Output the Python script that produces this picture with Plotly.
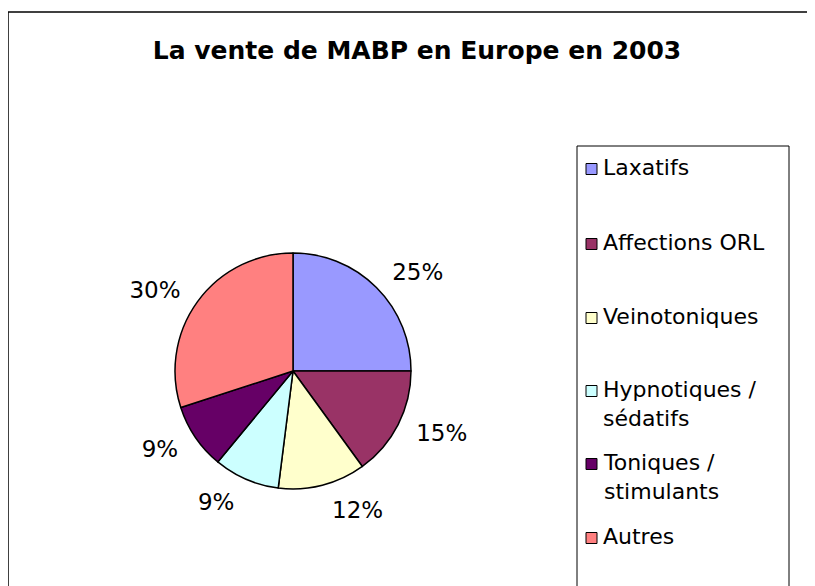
import plotly.graph_objects as go

categories = ["Laxatifs", "Affections ORL", "Veinotoniques", "Hypnotiques / sédatifs",
              "Toniques / stimulants", "Autres"]
legend_labels = ["Laxatifs", "Affections ORL", "Veinotoniques", "Hypnotiques /<br>sédatifs",
                 "Toniques /<br>stimulants", "Autres"]
values = [25, 15, 12, 9, 9, 30]
colors = ["#9999FF", "#993366", "#FFFFCC", "#CCFFFF", "#660066", "#FF8080"]
title_text = "La vente de MABP en Europe en 2003"

W, H = 815, 586
OFF = 8  # page body margin


def px(x):
    return (x - OFF) / W


def py(y):
    return 1 - (y - OFF) / H


cx, cy, r = 293, 371, 118
r_text = 131

fig = go.Figure()
# label carrier (transparent, slightly larger) so that labels sit further out
fig.add_trace(go.Pie(
    labels=categories, values=values, sort=False, direction="clockwise", rotation=0,
    marker=dict(colors=["rgba(0,0,0,0)"] * len(values), line=dict(width=0)),
    texttemplate="%{percent:.0%}", textposition="outside",
    textfont=dict(family="DejaVu Sans", size=23, color="black"),
    domain=dict(x=[px(cx - r_text), px(cx + r_text)], y=[py(cy + r_text), py(cy - r_text)]),
    showlegend=False, hoverinfo="skip",
))
fig.add_trace(go.Pie(
    labels=categories, values=values, sort=False, direction="clockwise", rotation=0,
    marker=dict(colors=colors, line=dict(color="black", width=1.5)),
    textinfo="none",
    domain=dict(x=[px(cx - r), px(cx + r)], y=[py(cy + r), py(cy - r)]),
    showlegend=False, hoverinfo="label+percent",
))

shapes = [
    dict(type="line", xref="paper", yref="paper", x0=px(8), x1=1.2, y0=py(12), y1=py(12),
         line=dict(color="black", width=1.5)),
    dict(type="line", xref="paper", yref="paper", x0=px(8), x1=px(8), y0=py(12), y1=-0.1,
         line=dict(color="black", width=1.5)),
    dict(type="rect", xref="paper", yref="paper", x0=px(577), x1=px(789), y0=py(146), y1=-0.1,
         line=dict(color="black", width=1), fillcolor="rgba(0,0,0,0)"),
]
annotations = []
item_y = [168, 243, 317, 390, 463, 537]
for lab, col, yy in zip(legend_labels, colors, item_y):
    shapes.append(dict(type="rect", xref="paper", yref="paper",
                       x0=px(586), x1=px(597), y0=py(yy + 6.5), y1=py(yy - 4.5),
                       fillcolor=col, line=dict(color="black", width=1)))
    annotations.append(dict(xref="paper", yref="paper", x=px(601), y=py(yy - 15),
                            xanchor="left", yanchor="top", align="left", showarrow=False,
                            text=lab, font=dict(family="DejaVu Sans", size=22, color="black")))

fig.update_layout(
    width=W, height=H, margin=dict(l=0, r=0, t=0, b=0),
    paper_bgcolor="white", plot_bgcolor="white",
    title=dict(text=title_text, x=px(417), xanchor="center", y=py(50), yanchor="middle",
               font=dict(family="DejaVu Sans", size=25, color="black", weight="bold")),
    shapes=shapes, annotations=annotations,
)
fig.write_html("out.html")
